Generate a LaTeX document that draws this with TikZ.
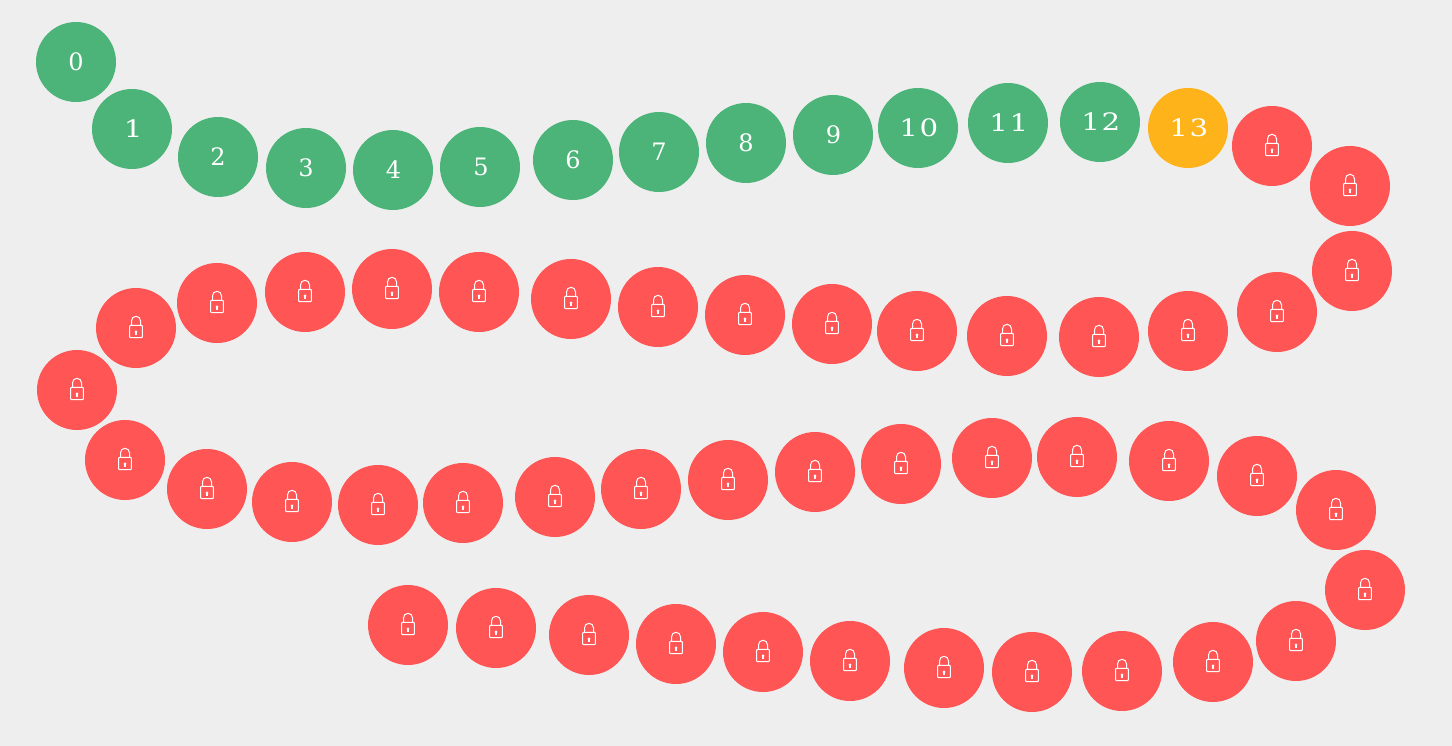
\documentclass[tikz,border=0pt]{standalone}
\usepackage{fontspec}
\setmainfont{DejaVu Serif}
\definecolor{pagebg}{HTML}{EEEEEE}
\definecolor{donegreen}{HTML}{4CB479}
\definecolor{nowamber}{HTML}{FFB31A}
\definecolor{lockred}{HTML}{FF5555}
\tikzset{
  disc/.style={circle,minimum size=80pt,inner sep=0pt,outer sep=0pt},
  donedisc/.style={disc,fill=donegreen},
  nowdisc/.style={disc,fill=nowamber},
  lockdisc/.style={disc,fill=lockred},
  digits/.style={text=white,inner sep=0pt,font=\fontsize{24}{24}\selectfont},
  wide/.style={digits,font=\fontsize{24}{24}\selectfont\addfontfeature{LetterSpace=5},xscale=1.22,transform shape},
  padlock/.pic={
    \draw[white,line width=1pt,rounded corners=.8pt] (-6.3,-2.6) rectangle (6.3,9.6);
    \draw[white,line width=1pt] (-4.5,-2.6) -- (-4.5,-7.2) arc[start angle=180,end angle=360,radius=4.5] -- (4.5,-2.6);
    \fill[white] (0,3.9) circle[radius=1.5];
    \fill[white] (-.6,3.9) rectangle (.6,6.6);
  }
}
\begin{document}
\begin{tikzpicture}[x=1pt,y=-1pt]
\fill[pagebg] (0,0) rectangle (1452,746);
\useasboundingbox (0,0) rectangle (1452,746);
\foreach \i/\x/\y in {0/76/62,1/132/129,2/218/157,3/306/168,4/393/170,5/480/167,6/573/160,7/659/152,8/746/143,9/833/135,10/918/128,11/1008/123,12/1100/122}
  \node[donedisc] (n\i) at (\x,\y) {};
\node[nowdisc] (n13) at (1188,128) {};
\foreach \i/\dx in {0/0,2/0,3/0,4/0.5,5/1,6/0,7/0,8/0,9/0.5}
  \node[digits] (t\i) at ([xshift=\dx pt]n\i) {\i};
\node[wide] (t1) at ([xshift=1.2pt]n1) {\addfontfeature{LetterSpace=0}1};
\foreach \i in {10,11,12,13}
  \node[wide] (t\i) at ([xshift=.8pt]n\i) {\i};
\foreach \i/\x/\y in {14/1272/146,15/1350/186,16/1352/271,17/1277/312,18/1188/331,19/1099/337,20/1007/336,21/917/331,22/832/324,23/745/315,24/658/307,25/571/299,26/479/292,27/392/289,28/305/292,29/217/303,30/136/328,31/77/390,32/125/460,33/207/489,34/292/502,35/378/505,36/463/503,37/555/497,38/641/489,39/728/480,40/815/472,41/901/464,42/992/458,43/1077/457,44/1169/461,45/1257/476,46/1336/510,47/1365/590,48/1296/641,49/1213/662,50/1122/671,51/1032/672,52/944/668,53/850/661,54/763/652,55/676/644,56/589/635,57/496/628,58/408/625}{
  \node[lockdisc] (n\i) at (\x,\y) {};
  \pic at (n\i) {padlock};
}
\end{tikzpicture}
\end{document}
